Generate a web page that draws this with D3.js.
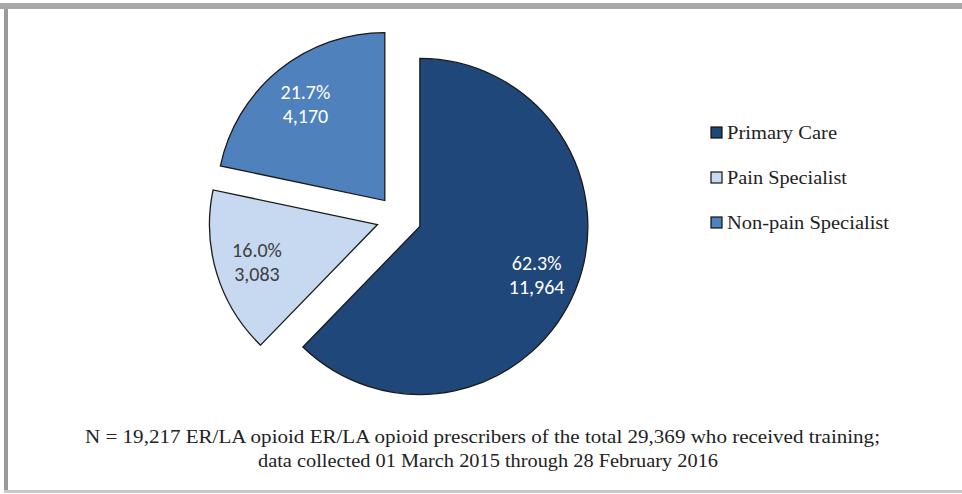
<!DOCTYPE html>
<html>
<head>
<meta charset="utf-8">
<script src="https://cdn.jsdelivr.net/npm/d3@7"></script>
<style>
  body { margin: 0; background: #fff; }
  svg { display: block; }
</style>
</head>
<body>
<svg id="chart" width="962" height="494"></svg>
<script>
// data
const categories = ['Primary Care', 'Pain Specialist', 'Non-pain Specialist'];
const counts = [11964, 3083, 4170];
const percents = ['62.3%', '16.0%', '21.7%'];
const colors = ['#1f477a', '#c6d9f1', '#4f81bd'];
const labelColors = ['#ffffff', '#404040', '#ffffff'];
const footer = [
  'N =  19,217 ER/LA opioid ER/LA opioid prescribers of the total 29,369 who received training;',
  'data collected 01 March  2015 through 28 February 2016'
];

const svg = d3.select('#chart');

// frame
svg.append('rect').attr('x', 0).attr('y', 3).attr('width', 962).attr('height', 6).attr('fill', '#a8a8a8');
svg.append('rect').attr('x', 4).attr('y', 9).attr('width', 4).attr('height', 483).attr('fill', '#9a9a9a');
svg.append('rect').attr('x', 4).attr('y', 490).attr('width', 958).attr('height', 3).attr('fill', '#c8c8c8');

const cx = 399, cy = 218, r = 168, explode = 22.5;

const pie = d3.pie().sort(null).value(d => d);
const arcs = pie(counts);
const arc = d3.arc().innerRadius(0).outerRadius(r);

const g = svg.append('g').attr('transform', `translate(${cx},${cy})`);

const slice = g.selectAll('g.slice')
  .data(arcs)
  .enter().append('g')
  .attr('class', 'slice')
  .attr('transform', d => {
    let a = (d.startAngle + d.endAngle) / 2;
    return `translate(${Math.sin(a) * explode},${-Math.cos(a) * explode})`;
  });

slice.append('path')
  .attr('d', arc)
  .attr('fill', (d, i) => colors[i])
  .attr('stroke', '#1a1a1a')
  .attr('stroke-width', 1.3);

// data labels
const lbl = slice.append('text')
  .attr('font-family', 'Carlito, Calibri, "Liberation Sans", sans-serif')
  .attr('font-size', 20)
  .attr('text-anchor', 'middle')
  .attr('fill', (d, i) => labelColors[i])
  .attr('transform', d => {
    let a = (d.startAngle + d.endAngle) / 2;
    let k = 0.75 * r;
    return `translate(${Math.sin(a) * k},${-Math.cos(a) * k})`;
  });
lbl.append('tspan').attr('x', 0).attr('y', -4).text((d, i) => percents[i]);
lbl.append('tspan').attr('x', 0).attr('y', 20).text((d, i) => d3.format(',')(counts[i]));

// legend
const legendW = [110, 120, 162];
const legend = svg.append('g').attr('transform', 'translate(711,127)');
const item = legend.selectAll('g')
  .data(categories)
  .enter().append('g')
  .attr('transform', (d, i) => `translate(0,${i * 45})`);
item.append('rect')
  .attr('width', 11).attr('height', 11)
  .attr('fill', (d, i) => colors[i])
  .attr('stroke', '#111').attr('stroke-width', 1.2);
item.append('text')
  .attr('x', 16).attr('y', 12)
  .attr('font-family', '"Liberation Serif", "Times New Roman", serif')
  .attr('font-size', 19)
  .attr('fill', '#222')
  .attr('textLength', (d, i) => legendW[i])
  .attr('lengthAdjust', 'spacingAndGlyphs')
  .text(d => d);

// footer note
svg.selectAll('text.note')
  .data(footer)
  .enter().append('text')
  .attr('class', 'note')
  .attr('x', (d, i) => i === 0 ? 85 : 258)
  .attr('y', (d, i) => 443 + i * 24)
  .attr('textLength', (d, i) => i === 0 ? 795 : 460)
  .attr('lengthAdjust', 'spacingAndGlyphs')
  .attr('font-family', '"Liberation Serif", "Times New Roman", serif')
  .attr('font-size', 19.5)
  .attr('fill', '#222')
  .text(d => d);
</script>
</body>
</html>
